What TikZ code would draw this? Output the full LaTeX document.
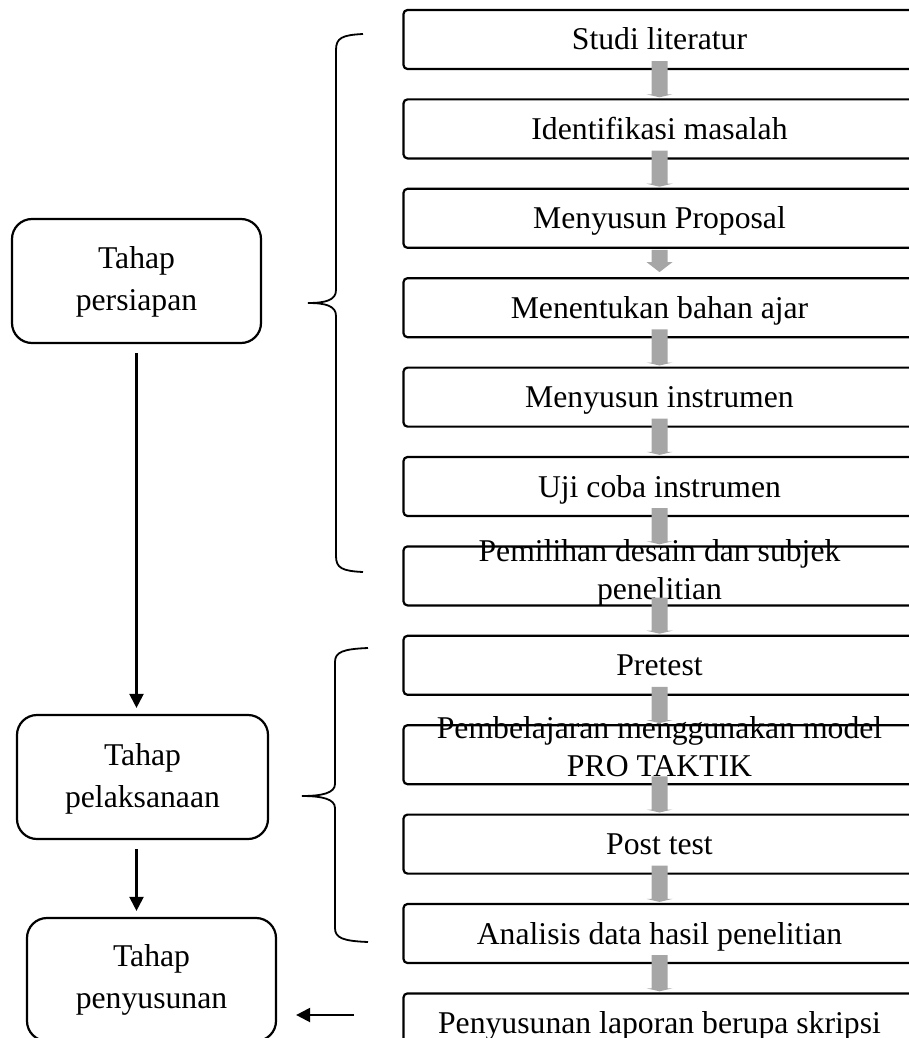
\documentclass[tikz,border=0pt]{standalone}
\usepackage{fontspec}
\setmainfont{Liberation Serif}
\usetikzlibrary{arrows.meta,calc}
\tikzset{
 stepbox/.style={draw, line width=2.2pt, rounded corners=4pt, minimum width=512pt, minimum height=59pt, inner sep=0pt},
 phasebox/.style={draw, line width=2.2pt, rounded corners=20pt, minimum width=249pt, minimum height=124pt, inner sep=0pt},
 steptext/.style={font=\fontsize{31.7pt}{38pt}\selectfont, align=center, anchor=base, inner sep=0pt},
 phasetext/.style={font=\fontsize{31.7pt}{42pt}\selectfont, align=center, anchor=base, inner sep=0pt},
 grayarr/.style={fill=black!35},
 blackarr/.style={line width=2.2pt, -{Triangle[width=14pt,length=14pt]}},
 bracestyle/.style={line width=1.8pt}
}
% #1 from, #2 to, #3 body start (rel. #1.south), #4 head base (rel. #2.north), #5 tip (rel. #2.north)
\newcommand\grayarrow[5]{%
 \fill[grayarr] ($(#1.south)+(-8,#3)$) -- ($(#1.south)+(8,#3)$) -- ($(#2.north)+(8,#4)$) -- ($(#2.north)+(13,#4)$)
   -- ($(#2.north)+(0,#5)$) -- ($(#2.north)+(-13,#4)$) -- ($(#2.north)+(-8,#4)$) -- cycle;}
\begin{document}
\begin{tikzpicture}[x=1pt,y=-1pt]
\useasboundingbox (0,0) rectangle (909,1038);
\clip (0,0) rectangle (909,1038);
% right column boxes
\node[stepbox] (s1) at (659.5,39.5) {};
\node[stepbox] (s2) at (659.5,128.9) {};
\node[stepbox] (s3) at (659.5,218.3) {};
\node[stepbox] (s4) at (659.5,307.7) {};
\node[stepbox] (s5) at (659.5,397.1) {};
\node[stepbox] (s6) at (659.5,486.5) {};
\node[stepbox] (s7) at (659.5,575.9) {};
\node[stepbox] (s8) at (659.5,665.3) {};
\node[stepbox] (s9) at (659.5,754.7) {};
\node[stepbox] (s10) at (659.5,844.1) {};
\node[stepbox] (s11) at (659.5,933.5) {};
\node[stepbox] (s12) at (659.5,1022.9) {};
% texts
\node[steptext] (t1) at ($(s1.center)+(0,10.5)$) {Studi literatur};
\node[steptext] (t2) at ($(s2.center)+(0,10.5)$) {Identifikasi masalah};
\node[steptext] (t3) at ($(s3.center)+(0,10.5)$) {Menyusun Proposal};
\node[steptext] (t4) at ($(s4.center)+(0,10.5)$) {Menentukan bahan ajar};
\node[steptext] (t5) at ($(s5.center)+(0,10.5)$) {Menyusun instrumen};
\node[steptext] (t6) at ($(s6.center)+(0,10.5)$) {Uji coba instrumen};
\node[steptext] (t7) at ($(s7.center)+(0,24)$) {Pemilihan desain dan subjek\\penelitian};
\node[steptext] (t8) at ($(s8.center)+(0,10.5)$) {Pretest};
\node[steptext] (t9) at ($(s9.center)+(0,22)$) {Pembelajaran menggunakan model\\PRO TAKTIK};
\node[steptext] (t10) at ($(s10.center)+(0,10.5)$) {Post test};
\node[steptext] (t11) at ($(s11.center)+(0,10.5)$) {Analisis data hasil penelitian};
\node[steptext] (t12) at ($(s12.center)+(0,10.5)$) {Penyusunan laporan berupa skripsi};
% gray block arrows
\grayarrow{s1}{s2}{-9}{-4}{-1}
\grayarrow{s2}{s3}{-9}{-4}{-1}
\grayarrow{s3}{s4}{1}{-15}{-5}
\grayarrow{s4}{s5}{-9}{-4}{-1}
\grayarrow{s5}{s6}{-9}{-4}{-1}
\grayarrow{s6}{s7}{-9}{-4}{-1}
\grayarrow{s7}{s8}{-9}{-4}{-1}
\grayarrow{s8}{s9}{-9}{-4}{-1}
\grayarrow{s9}{s10}{-9}{-4}{-1}
\grayarrow{s10}{s11}{-9}{-4}{-1}
\grayarrow{s11}{s12}{-9}{-4}{-1}
% phase boxes
\node[phasebox] (p1) at (136.5,281) {};
\node[phasebox, minimum width=251pt] (p2) at (142.5,777) {};
\node[phasebox, minimum height=123pt] (p3) at (151.5,979.5) {};
\node[phasetext] (pt1) at ($(p1.center)+(0,29)$) {Tahap\\persiapan};
\node[phasetext] (pt2) at ($(p2.center)+(0,30)$) {Tahap\\pelaksanaan};
\node[phasetext] (pt3) at ($(p3.center)+(0,29)$) {Tahap\\penyusunan};
% black arrows
\draw[blackarr, shorten <=9pt, shorten >=6pt] (p1.south) -- (p1.south |- p2.north);
\draw[blackarr, shorten <=9pt, shorten >=6pt] (p1.south |- p2.south) -- (p1.south |- p3.north);
\coordinate (h1) at (354,1015);
\draw[blackarr, shorten >=19pt] (h1) -- (h1 -| p3.east);
% braces
\draw[bracestyle] (363,34) .. controls (342,35) and (336,38) .. (336,50) -- (336,290)
  .. controls (336,300) and (326,303) .. (308,303)
  .. controls (326,303) and (336,306) .. (336,316) -- (336,556)
  .. controls (336,568) and (342,571) .. (363,572);
\draw[bracestyle] (368,648) .. controls (343,649) and (335,652) .. (335,662) -- (335,784)
  .. controls (335,793) and (322,796) .. (302,796)
  .. controls (322,796) and (335,799) .. (335,808) -- (335,928)
  .. controls (335,938) and (343,941) .. (368,942);
\end{tikzpicture}
\end{document}
